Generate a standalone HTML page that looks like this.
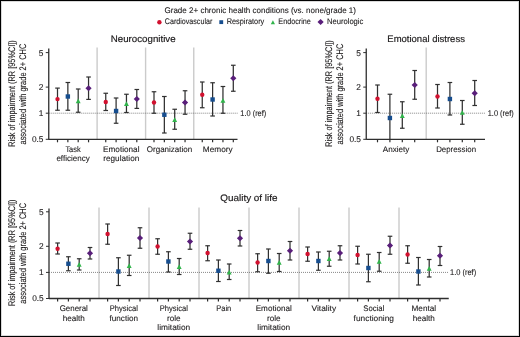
<!DOCTYPE html>
<html><head><meta charset="utf-8"><style>
html,body{margin:0;padding:0;background:#fff;}
body{width:520px;height:337px;overflow:hidden;}
svg{display:block;will-change:transform;}
text{font-family:"Liberation Sans", sans-serif;text-rendering:geometricPrecision;stroke:#1c1a1b;stroke-width:0.1px;}
</style></head><body>
<svg width="520" height="337" viewBox="0 0 520 337" font-family='"Liberation Sans", sans-serif' fill="#1c1a1b">
<rect x="0" y="0" width="520" height="337" fill="#fff"/>
<text x="164.5" y="12.95" font-size="8.1" text-anchor="start" textLength="191.5" lengthAdjust="spacingAndGlyphs">Grade 2+ chronic health conditions (vs. none/grade 1)</text>
<circle cx="159.4" cy="22.2" r="2.2" fill="#d2112f"/>
<text x="164.8" y="24.45" font-size="8.1" text-anchor="start" textLength="47.5" lengthAdjust="spacingAndGlyphs">Cardiovascular</text>
<rect x="219.336" y="20.235999999999997" width="3.8280000000000003" height="3.8280000000000003" fill="#164d8e"/>
<text x="226.7" y="24.45" font-size="8.1" text-anchor="start" textLength="37.6" lengthAdjust="spacingAndGlyphs">Respiratory</text>
<path d="M270.8175,24.205 L274.98249999999996,24.205 L272.9,20.295 Z" fill="#31b44b"/>
<text x="278.3" y="24.45" font-size="8.1" text-anchor="start" textLength="32.6" lengthAdjust="spacingAndGlyphs">Endocrine</text>
<path d="M320.6,19.05 L323.70000000000005,22.0 L320.6,24.95 L317.5,22.0 Z" fill="#591e7a"/>
<text x="326.9" y="24.45" font-size="8.1" text-anchor="start" textLength="36.5" lengthAdjust="spacingAndGlyphs">Neurologic</text>
<text x="110.8" y="41.9" font-size="9.4" text-anchor="start" textLength="64.8" lengthAdjust="spacingAndGlyphs" style="stroke-width:0.17px">Neurocognitive</text>
<text x="387.3" y="41.9" font-size="9.4" text-anchor="start" textLength="77.6" lengthAdjust="spacingAndGlyphs" style="stroke-width:0.17px">Emotional distress</text>
<text x="220.3" y="201.4" font-size="9.4" text-anchor="start" textLength="57.2" lengthAdjust="spacingAndGlyphs" style="stroke-width:0.17px">Quality of life</text>
<line x1="97.1" y1="47.5" x2="97.1" y2="139.3" stroke="#cbcbcb" stroke-width="1.4"/>
<line x1="145.6" y1="47.5" x2="145.6" y2="139.3" stroke="#cbcbcb" stroke-width="1.4"/>
<line x1="193.75" y1="47.5" x2="193.75" y2="139.3" stroke="#cbcbcb" stroke-width="1.4"/>
<line x1="48.75" y1="113.2" x2="237.5" y2="113.2" stroke="#555" stroke-width="0.8" stroke-dasharray="0.9 1.1"/>
<line x1="48.75" y1="48.5" x2="48.75" y2="139.8" stroke="#2e2e2e" stroke-width="1.3"/>
<line x1="48.75" y1="139.3" x2="237.5" y2="139.3" stroke="#2e2e2e" stroke-width="1.3"/>
<line x1="45.75" y1="52.60" x2="48.75" y2="52.60" stroke="#2e2e2e" stroke-width="1"/>
<text x="43.45" y="55.50" font-size="8.3" text-anchor="end">5</text>
<line x1="45.75" y1="87.10" x2="48.75" y2="87.10" stroke="#2e2e2e" stroke-width="1"/>
<text x="43.45" y="90.00" font-size="8.3" text-anchor="end">2</text>
<line x1="45.75" y1="113.20" x2="48.75" y2="113.20" stroke="#2e2e2e" stroke-width="1"/>
<text x="43.45" y="116.10" font-size="8.3" text-anchor="end">1</text>
<line x1="45.75" y1="139.30" x2="48.75" y2="139.30" stroke="#2e2e2e" stroke-width="1"/>
<text x="43.45" y="142.20" font-size="8.3" text-anchor="end">0.5</text>
<line x1="57.5" y1="139.3" x2="57.5" y2="142.3" stroke="#2e2e2e" stroke-width="1.2"/>
<line x1="67.85" y1="139.3" x2="67.85" y2="142.3" stroke="#2e2e2e" stroke-width="1.2"/>
<line x1="78.2" y1="139.3" x2="78.2" y2="142.3" stroke="#2e2e2e" stroke-width="1.2"/>
<line x1="88.55" y1="139.3" x2="88.55" y2="142.3" stroke="#2e2e2e" stroke-width="1.2"/>
<line x1="105.75" y1="139.3" x2="105.75" y2="142.3" stroke="#2e2e2e" stroke-width="1.2"/>
<line x1="116.1" y1="139.3" x2="116.1" y2="142.3" stroke="#2e2e2e" stroke-width="1.2"/>
<line x1="126.45" y1="139.3" x2="126.45" y2="142.3" stroke="#2e2e2e" stroke-width="1.2"/>
<line x1="136.8" y1="139.3" x2="136.8" y2="142.3" stroke="#2e2e2e" stroke-width="1.2"/>
<line x1="154.0" y1="139.3" x2="154.0" y2="142.3" stroke="#2e2e2e" stroke-width="1.2"/>
<line x1="164.35" y1="139.3" x2="164.35" y2="142.3" stroke="#2e2e2e" stroke-width="1.2"/>
<line x1="174.7" y1="139.3" x2="174.7" y2="142.3" stroke="#2e2e2e" stroke-width="1.2"/>
<line x1="185.05" y1="139.3" x2="185.05" y2="142.3" stroke="#2e2e2e" stroke-width="1.2"/>
<line x1="202.25" y1="139.3" x2="202.25" y2="142.3" stroke="#2e2e2e" stroke-width="1.2"/>
<line x1="212.6" y1="139.3" x2="212.6" y2="142.3" stroke="#2e2e2e" stroke-width="1.2"/>
<line x1="222.95" y1="139.3" x2="222.95" y2="142.3" stroke="#2e2e2e" stroke-width="1.2"/>
<line x1="233.3" y1="139.3" x2="233.3" y2="142.3" stroke="#2e2e2e" stroke-width="1.2"/>
<line x1="57.5" y1="88.1" x2="57.5" y2="110.25" stroke="#303030" stroke-width="1.25"/>
<line x1="55.2" y1="88.1" x2="59.8" y2="88.1" stroke="#303030" stroke-width="1.2"/>
<line x1="55.2" y1="110.25" x2="59.8" y2="110.25" stroke="#303030" stroke-width="1.2"/>
<circle cx="57.5" cy="99.1" r="2.2" fill="#d2112f"/>
<line x1="67.85" y1="82.5" x2="67.85" y2="110.25" stroke="#303030" stroke-width="1.25"/>
<line x1="65.55" y1="82.5" x2="70.14999999999999" y2="82.5" stroke="#303030" stroke-width="1.2"/>
<line x1="65.55" y1="110.25" x2="70.14999999999999" y2="110.25" stroke="#303030" stroke-width="1.2"/>
<rect x="65.64999999999999" y="94.3" width="4.4" height="4.4" fill="#164d8e"/>
<line x1="78.2" y1="89" x2="78.2" y2="112.25" stroke="#303030" stroke-width="1.25"/>
<line x1="75.9" y1="89" x2="80.5" y2="89" stroke="#303030" stroke-width="1.2"/>
<line x1="75.9" y1="112.25" x2="80.5" y2="112.25" stroke="#303030" stroke-width="1.2"/>
<path d="M75.75,103.2 L80.65,103.2 L78.2,98.60000000000001 Z" fill="#31b44b"/>
<line x1="88.55" y1="77" x2="88.55" y2="99.4" stroke="#303030" stroke-width="1.25"/>
<line x1="86.25" y1="77" x2="90.85" y2="77" stroke="#303030" stroke-width="1.2"/>
<line x1="86.25" y1="99.4" x2="90.85" y2="99.4" stroke="#303030" stroke-width="1.2"/>
<path d="M88.55,85.3 L91.64999999999999,88.25 L88.55,91.2 L85.45,88.25 Z" fill="#591e7a"/>
<line x1="105.75" y1="93.25" x2="105.75" y2="110.5" stroke="#303030" stroke-width="1.25"/>
<line x1="103.45" y1="93.25" x2="108.05" y2="93.25" stroke="#303030" stroke-width="1.2"/>
<line x1="103.45" y1="110.5" x2="108.05" y2="110.5" stroke="#303030" stroke-width="1.2"/>
<circle cx="105.75" cy="102" r="2.2" fill="#d2112f"/>
<line x1="116.1" y1="98" x2="116.1" y2="123.25" stroke="#303030" stroke-width="1.25"/>
<line x1="113.8" y1="98" x2="118.39999999999999" y2="98" stroke="#303030" stroke-width="1.2"/>
<line x1="113.8" y1="123.25" x2="118.39999999999999" y2="123.25" stroke="#303030" stroke-width="1.2"/>
<rect x="113.89999999999999" y="108.8" width="4.4" height="4.4" fill="#164d8e"/>
<line x1="126.45" y1="94.25" x2="126.45" y2="112.5" stroke="#303030" stroke-width="1.25"/>
<line x1="124.15" y1="94.25" x2="128.75" y2="94.25" stroke="#303030" stroke-width="1.2"/>
<line x1="124.15" y1="112.5" x2="128.75" y2="112.5" stroke="#303030" stroke-width="1.2"/>
<path d="M124.0,105.95 L128.9,105.95 L126.45,101.35000000000001 Z" fill="#31b44b"/>
<line x1="136.8" y1="89.5" x2="136.8" y2="108.4" stroke="#303030" stroke-width="1.25"/>
<line x1="134.5" y1="89.5" x2="139.10000000000002" y2="89.5" stroke="#303030" stroke-width="1.2"/>
<line x1="134.5" y1="108.4" x2="139.10000000000002" y2="108.4" stroke="#303030" stroke-width="1.2"/>
<path d="M136.8,96.05 L139.9,99 L136.8,101.95 L133.70000000000002,99 Z" fill="#591e7a"/>
<line x1="154.0" y1="91.75" x2="154.0" y2="113.25" stroke="#303030" stroke-width="1.25"/>
<line x1="151.7" y1="91.75" x2="156.3" y2="91.75" stroke="#303030" stroke-width="1.2"/>
<line x1="151.7" y1="113.25" x2="156.3" y2="113.25" stroke="#303030" stroke-width="1.2"/>
<circle cx="154.0" cy="102.5" r="2.2" fill="#d2112f"/>
<line x1="164.35" y1="96.5" x2="164.35" y2="133" stroke="#303030" stroke-width="1.25"/>
<line x1="162.04999999999998" y1="96.5" x2="166.65" y2="96.5" stroke="#303030" stroke-width="1.2"/>
<line x1="162.04999999999998" y1="133" x2="166.65" y2="133" stroke="#303030" stroke-width="1.2"/>
<rect x="162.15" y="112.55" width="4.4" height="4.4" fill="#164d8e"/>
<line x1="174.7" y1="109.25" x2="174.7" y2="129.25" stroke="#303030" stroke-width="1.25"/>
<line x1="172.39999999999998" y1="109.25" x2="177.0" y2="109.25" stroke="#303030" stroke-width="1.2"/>
<line x1="172.39999999999998" y1="129.25" x2="177.0" y2="129.25" stroke="#303030" stroke-width="1.2"/>
<path d="M172.25,121.95 L177.14999999999998,121.95 L174.7,117.35000000000001 Z" fill="#31b44b"/>
<line x1="185.05" y1="90.75" x2="185.05" y2="114.25" stroke="#303030" stroke-width="1.25"/>
<line x1="182.75" y1="90.75" x2="187.35000000000002" y2="90.75" stroke="#303030" stroke-width="1.2"/>
<line x1="182.75" y1="114.25" x2="187.35000000000002" y2="114.25" stroke="#303030" stroke-width="1.2"/>
<path d="M185.05,99.55 L188.15,102.5 L185.05,105.45 L181.95000000000002,102.5 Z" fill="#591e7a"/>
<line x1="202.25" y1="82" x2="202.25" y2="107.75" stroke="#303030" stroke-width="1.25"/>
<line x1="199.95" y1="82" x2="204.55" y2="82" stroke="#303030" stroke-width="1.2"/>
<line x1="199.95" y1="107.75" x2="204.55" y2="107.75" stroke="#303030" stroke-width="1.2"/>
<circle cx="202.25" cy="94.75" r="2.2" fill="#d2112f"/>
<line x1="212.6" y1="82.75" x2="212.6" y2="116" stroke="#303030" stroke-width="1.25"/>
<line x1="210.29999999999998" y1="82.75" x2="214.9" y2="82.75" stroke="#303030" stroke-width="1.2"/>
<line x1="210.29999999999998" y1="116" x2="214.9" y2="116" stroke="#303030" stroke-width="1.2"/>
<rect x="210.4" y="97.3" width="4.4" height="4.4" fill="#164d8e"/>
<line x1="222.95" y1="86.5" x2="222.95" y2="113.25" stroke="#303030" stroke-width="1.25"/>
<line x1="220.64999999999998" y1="86.5" x2="225.25" y2="86.5" stroke="#303030" stroke-width="1.2"/>
<line x1="220.64999999999998" y1="113.25" x2="225.25" y2="113.25" stroke="#303030" stroke-width="1.2"/>
<path d="M220.5,102.7 L225.39999999999998,102.7 L222.95,98.10000000000001 Z" fill="#31b44b"/>
<line x1="233.3" y1="65.25" x2="233.3" y2="91.25" stroke="#303030" stroke-width="1.25"/>
<line x1="231.0" y1="65.25" x2="235.60000000000002" y2="65.25" stroke="#303030" stroke-width="1.2"/>
<line x1="231.0" y1="91.25" x2="235.60000000000002" y2="91.25" stroke="#303030" stroke-width="1.2"/>
<path d="M233.3,75.3 L236.4,78.25 L233.3,81.2 L230.20000000000002,78.25 Z" fill="#591e7a"/>
<text x="73.03" y="152.10" font-size="8.1" text-anchor="middle" textLength="15.3" lengthAdjust="spacingAndGlyphs">Task</text>
<text x="73.03" y="161.15" font-size="8.1" text-anchor="middle" textLength="33.3" lengthAdjust="spacingAndGlyphs">efficiency</text>
<text x="121.28" y="152.10" font-size="8.1" text-anchor="middle" textLength="36.4" lengthAdjust="spacingAndGlyphs">Emotional</text>
<text x="121.28" y="161.15" font-size="8.1" text-anchor="middle" textLength="36" lengthAdjust="spacingAndGlyphs">regulation</text>
<text x="169.53" y="152.10" font-size="8.1" text-anchor="middle" textLength="45.4" lengthAdjust="spacingAndGlyphs">Organization</text>
<text x="217.78" y="152.10" font-size="8.1" text-anchor="middle" textLength="29.9" lengthAdjust="spacingAndGlyphs">Memory</text>
<text transform="translate(14.6,93.5) rotate(-90)" font-size="9.6" text-anchor="middle" textLength="106.5" lengthAdjust="spacingAndGlyphs">Risk of impairment (RR [95%CI])</text>
<text transform="translate(25.8,94.1) rotate(-90)" font-size="9.6" text-anchor="middle" textLength="100.8" lengthAdjust="spacingAndGlyphs">associated with grade 2+ CHC</text>
<text x="240.3" y="115.50" font-size="8.3" text-anchor="start" textLength="26" lengthAdjust="spacingAndGlyphs">1.0 (ref)</text>
<line x1="426.2" y1="47.5" x2="426.2" y2="139.3" stroke="#cbcbcb" stroke-width="1.4"/>
<line x1="366.25" y1="113.2" x2="485" y2="113.2" stroke="#555" stroke-width="0.8" stroke-dasharray="0.9 1.1"/>
<line x1="366.25" y1="48.5" x2="366.25" y2="139.8" stroke="#2e2e2e" stroke-width="1.3"/>
<line x1="366.25" y1="139.3" x2="485" y2="139.3" stroke="#2e2e2e" stroke-width="1.3"/>
<line x1="363.25" y1="52.60" x2="366.25" y2="52.60" stroke="#2e2e2e" stroke-width="1"/>
<text x="360.95" y="55.50" font-size="8.3" text-anchor="end">5</text>
<line x1="363.25" y1="87.10" x2="366.25" y2="87.10" stroke="#2e2e2e" stroke-width="1"/>
<text x="360.95" y="90.00" font-size="8.3" text-anchor="end">2</text>
<line x1="363.25" y1="113.20" x2="366.25" y2="113.20" stroke="#2e2e2e" stroke-width="1"/>
<text x="360.95" y="116.10" font-size="8.3" text-anchor="end">1</text>
<line x1="363.25" y1="139.30" x2="366.25" y2="139.30" stroke="#2e2e2e" stroke-width="1"/>
<text x="360.95" y="142.20" font-size="8.3" text-anchor="end">0.5</text>
<line x1="377.5" y1="139.3" x2="377.5" y2="142.3" stroke="#2e2e2e" stroke-width="1.2"/>
<line x1="389.9" y1="139.3" x2="389.9" y2="142.3" stroke="#2e2e2e" stroke-width="1.2"/>
<line x1="402.3" y1="139.3" x2="402.3" y2="142.3" stroke="#2e2e2e" stroke-width="1.2"/>
<line x1="414.7" y1="139.3" x2="414.7" y2="142.3" stroke="#2e2e2e" stroke-width="1.2"/>
<line x1="437.5" y1="139.3" x2="437.5" y2="142.3" stroke="#2e2e2e" stroke-width="1.2"/>
<line x1="449.9" y1="139.3" x2="449.9" y2="142.3" stroke="#2e2e2e" stroke-width="1.2"/>
<line x1="462.3" y1="139.3" x2="462.3" y2="142.3" stroke="#2e2e2e" stroke-width="1.2"/>
<line x1="474.7" y1="139.3" x2="474.7" y2="142.3" stroke="#2e2e2e" stroke-width="1.2"/>
<line x1="377.5" y1="85" x2="377.5" y2="112.5" stroke="#303030" stroke-width="1.25"/>
<line x1="375.2" y1="85" x2="379.8" y2="85" stroke="#303030" stroke-width="1.2"/>
<line x1="375.2" y1="112.5" x2="379.8" y2="112.5" stroke="#303030" stroke-width="1.2"/>
<circle cx="377.5" cy="98.75" r="2.2" fill="#d2112f"/>
<line x1="389.9" y1="94.25" x2="389.9" y2="139.25" stroke="#303030" stroke-width="1.25"/>
<line x1="387.59999999999997" y1="94.25" x2="392.2" y2="94.25" stroke="#303030" stroke-width="1.2"/>
<rect x="387.7" y="115.8" width="4.4" height="4.4" fill="#164d8e"/>
<line x1="402.3" y1="101.75" x2="402.3" y2="128.25" stroke="#303030" stroke-width="1.25"/>
<line x1="400.0" y1="101.75" x2="404.6" y2="101.75" stroke="#303030" stroke-width="1.2"/>
<line x1="400.0" y1="128.25" x2="404.6" y2="128.25" stroke="#303030" stroke-width="1.2"/>
<path d="M399.85,117.95 L404.75,117.95 L402.3,113.35000000000001 Z" fill="#31b44b"/>
<line x1="414.7" y1="70.5" x2="414.7" y2="99.25" stroke="#303030" stroke-width="1.25"/>
<line x1="412.4" y1="70.5" x2="417.0" y2="70.5" stroke="#303030" stroke-width="1.2"/>
<line x1="412.4" y1="99.25" x2="417.0" y2="99.25" stroke="#303030" stroke-width="1.2"/>
<path d="M414.7,82.05 L417.8,85 L414.7,87.95 L411.59999999999997,85 Z" fill="#591e7a"/>
<line x1="437.5" y1="84.5" x2="437.5" y2="108" stroke="#303030" stroke-width="1.25"/>
<line x1="435.2" y1="84.5" x2="439.8" y2="84.5" stroke="#303030" stroke-width="1.2"/>
<line x1="435.2" y1="108" x2="439.8" y2="108" stroke="#303030" stroke-width="1.2"/>
<circle cx="437.5" cy="96.5" r="2.2" fill="#d2112f"/>
<line x1="449.9" y1="82.5" x2="449.9" y2="115" stroke="#303030" stroke-width="1.25"/>
<line x1="447.59999999999997" y1="82.5" x2="452.2" y2="82.5" stroke="#303030" stroke-width="1.2"/>
<line x1="447.59999999999997" y1="115" x2="452.2" y2="115" stroke="#303030" stroke-width="1.2"/>
<rect x="447.7" y="96.8" width="4.4" height="4.4" fill="#164d8e"/>
<line x1="462.3" y1="100.5" x2="462.3" y2="124.25" stroke="#303030" stroke-width="1.25"/>
<line x1="460.0" y1="100.5" x2="464.6" y2="100.5" stroke="#303030" stroke-width="1.2"/>
<line x1="460.0" y1="124.25" x2="464.6" y2="124.25" stroke="#303030" stroke-width="1.2"/>
<path d="M459.85,114.8 L464.75,114.8 L462.3,110.2 Z" fill="#31b44b"/>
<line x1="474.7" y1="80.5" x2="474.7" y2="105.5" stroke="#303030" stroke-width="1.25"/>
<line x1="472.4" y1="80.5" x2="477.0" y2="80.5" stroke="#303030" stroke-width="1.2"/>
<line x1="472.4" y1="105.5" x2="477.0" y2="105.5" stroke="#303030" stroke-width="1.2"/>
<path d="M474.7,90.3 L477.8,93.25 L474.7,96.2 L471.59999999999997,93.25 Z" fill="#591e7a"/>
<text x="396.10" y="152.10" font-size="8.1" text-anchor="middle" textLength="26.6" lengthAdjust="spacingAndGlyphs">Anxiety</text>
<text x="456.10" y="152.10" font-size="8.1" text-anchor="middle" textLength="39.9" lengthAdjust="spacingAndGlyphs">Depression</text>
<text transform="translate(332.0,93.5) rotate(-90)" font-size="9.6" text-anchor="middle" textLength="106.5" lengthAdjust="spacingAndGlyphs">Risk of impairment (RR [95%CI])</text>
<text transform="translate(343.2,94.1) rotate(-90)" font-size="9.6" text-anchor="middle" textLength="100.8" lengthAdjust="spacingAndGlyphs">associated with grade 2+ CHC</text>
<text x="487.7" y="115.50" font-size="8.3" text-anchor="start" textLength="26" lengthAdjust="spacingAndGlyphs">1.0 (ref)</text>
<line x1="99.0" y1="207.5" x2="99.0" y2="298.5" stroke="#cbcbcb" stroke-width="1.4"/>
<line x1="149.0" y1="207.5" x2="149.0" y2="298.5" stroke="#cbcbcb" stroke-width="1.4"/>
<line x1="199.0" y1="207.5" x2="199.0" y2="298.5" stroke="#cbcbcb" stroke-width="1.4"/>
<line x1="249.0" y1="207.5" x2="249.0" y2="298.5" stroke="#cbcbcb" stroke-width="1.4"/>
<line x1="299.0" y1="207.5" x2="299.0" y2="298.5" stroke="#cbcbcb" stroke-width="1.4"/>
<line x1="349.0" y1="207.5" x2="349.0" y2="298.5" stroke="#cbcbcb" stroke-width="1.4"/>
<line x1="399.0" y1="207.5" x2="399.0" y2="298.5" stroke="#cbcbcb" stroke-width="1.4"/>
<line x1="49" y1="272.4" x2="448.75" y2="272.4" stroke="#555" stroke-width="0.8" stroke-dasharray="0.9 1.1"/>
<line x1="49" y1="208.5" x2="49" y2="299.0" stroke="#2e2e2e" stroke-width="1.3"/>
<line x1="49" y1="298.5" x2="448.75" y2="298.5" stroke="#2e2e2e" stroke-width="1.3"/>
<line x1="46" y1="211.80" x2="49" y2="211.80" stroke="#2e2e2e" stroke-width="1"/>
<text x="43.7" y="214.70" font-size="8.3" text-anchor="end">5</text>
<line x1="46" y1="246.30" x2="49" y2="246.30" stroke="#2e2e2e" stroke-width="1"/>
<text x="43.7" y="249.20" font-size="8.3" text-anchor="end">2</text>
<line x1="46" y1="272.40" x2="49" y2="272.40" stroke="#2e2e2e" stroke-width="1"/>
<text x="43.7" y="275.30" font-size="8.3" text-anchor="end">1</text>
<line x1="46" y1="298.50" x2="49" y2="298.50" stroke="#2e2e2e" stroke-width="1"/>
<text x="43.7" y="301.40" font-size="8.3" text-anchor="end">0.5</text>
<line x1="57.6" y1="298.5" x2="57.6" y2="301.5" stroke="#2e2e2e" stroke-width="1.2"/>
<line x1="68.4" y1="298.5" x2="68.4" y2="301.5" stroke="#2e2e2e" stroke-width="1.2"/>
<line x1="79.2" y1="298.5" x2="79.2" y2="301.5" stroke="#2e2e2e" stroke-width="1.2"/>
<line x1="90.0" y1="298.5" x2="90.0" y2="301.5" stroke="#2e2e2e" stroke-width="1.2"/>
<line x1="107.6" y1="298.5" x2="107.6" y2="301.5" stroke="#2e2e2e" stroke-width="1.2"/>
<line x1="118.39999999999999" y1="298.5" x2="118.39999999999999" y2="301.5" stroke="#2e2e2e" stroke-width="1.2"/>
<line x1="129.2" y1="298.5" x2="129.2" y2="301.5" stroke="#2e2e2e" stroke-width="1.2"/>
<line x1="140.0" y1="298.5" x2="140.0" y2="301.5" stroke="#2e2e2e" stroke-width="1.2"/>
<line x1="157.6" y1="298.5" x2="157.6" y2="301.5" stroke="#2e2e2e" stroke-width="1.2"/>
<line x1="168.4" y1="298.5" x2="168.4" y2="301.5" stroke="#2e2e2e" stroke-width="1.2"/>
<line x1="179.2" y1="298.5" x2="179.2" y2="301.5" stroke="#2e2e2e" stroke-width="1.2"/>
<line x1="190.0" y1="298.5" x2="190.0" y2="301.5" stroke="#2e2e2e" stroke-width="1.2"/>
<line x1="207.6" y1="298.5" x2="207.6" y2="301.5" stroke="#2e2e2e" stroke-width="1.2"/>
<line x1="218.4" y1="298.5" x2="218.4" y2="301.5" stroke="#2e2e2e" stroke-width="1.2"/>
<line x1="229.2" y1="298.5" x2="229.2" y2="301.5" stroke="#2e2e2e" stroke-width="1.2"/>
<line x1="240.0" y1="298.5" x2="240.0" y2="301.5" stroke="#2e2e2e" stroke-width="1.2"/>
<line x1="257.6" y1="298.5" x2="257.6" y2="301.5" stroke="#2e2e2e" stroke-width="1.2"/>
<line x1="268.40000000000003" y1="298.5" x2="268.40000000000003" y2="301.5" stroke="#2e2e2e" stroke-width="1.2"/>
<line x1="279.20000000000005" y1="298.5" x2="279.20000000000005" y2="301.5" stroke="#2e2e2e" stroke-width="1.2"/>
<line x1="290.0" y1="298.5" x2="290.0" y2="301.5" stroke="#2e2e2e" stroke-width="1.2"/>
<line x1="307.6" y1="298.5" x2="307.6" y2="301.5" stroke="#2e2e2e" stroke-width="1.2"/>
<line x1="318.40000000000003" y1="298.5" x2="318.40000000000003" y2="301.5" stroke="#2e2e2e" stroke-width="1.2"/>
<line x1="329.20000000000005" y1="298.5" x2="329.20000000000005" y2="301.5" stroke="#2e2e2e" stroke-width="1.2"/>
<line x1="340.0" y1="298.5" x2="340.0" y2="301.5" stroke="#2e2e2e" stroke-width="1.2"/>
<line x1="357.6" y1="298.5" x2="357.6" y2="301.5" stroke="#2e2e2e" stroke-width="1.2"/>
<line x1="368.40000000000003" y1="298.5" x2="368.40000000000003" y2="301.5" stroke="#2e2e2e" stroke-width="1.2"/>
<line x1="379.20000000000005" y1="298.5" x2="379.20000000000005" y2="301.5" stroke="#2e2e2e" stroke-width="1.2"/>
<line x1="390.0" y1="298.5" x2="390.0" y2="301.5" stroke="#2e2e2e" stroke-width="1.2"/>
<line x1="407.6" y1="298.5" x2="407.6" y2="301.5" stroke="#2e2e2e" stroke-width="1.2"/>
<line x1="418.40000000000003" y1="298.5" x2="418.40000000000003" y2="301.5" stroke="#2e2e2e" stroke-width="1.2"/>
<line x1="429.20000000000005" y1="298.5" x2="429.20000000000005" y2="301.5" stroke="#2e2e2e" stroke-width="1.2"/>
<line x1="440.0" y1="298.5" x2="440.0" y2="301.5" stroke="#2e2e2e" stroke-width="1.2"/>
<line x1="57.6" y1="243" x2="57.6" y2="254" stroke="#303030" stroke-width="1.25"/>
<line x1="55.300000000000004" y1="243" x2="59.9" y2="243" stroke="#303030" stroke-width="1.2"/>
<line x1="55.300000000000004" y1="254" x2="59.9" y2="254" stroke="#303030" stroke-width="1.2"/>
<circle cx="57.6" cy="248.75" r="2.2" fill="#d2112f"/>
<line x1="68.4" y1="256.75" x2="68.4" y2="270.75" stroke="#303030" stroke-width="1.25"/>
<line x1="66.10000000000001" y1="256.75" x2="70.7" y2="256.75" stroke="#303030" stroke-width="1.2"/>
<line x1="66.10000000000001" y1="270.75" x2="70.7" y2="270.75" stroke="#303030" stroke-width="1.2"/>
<rect x="66.2" y="261.55" width="4.4" height="4.4" fill="#164d8e"/>
<line x1="79.2" y1="258.75" x2="79.2" y2="270" stroke="#303030" stroke-width="1.25"/>
<line x1="76.9" y1="258.75" x2="81.5" y2="258.75" stroke="#303030" stroke-width="1.2"/>
<line x1="76.9" y1="270" x2="81.5" y2="270" stroke="#303030" stroke-width="1.2"/>
<path d="M76.75,266.7 L81.65,266.7 L79.2,262.09999999999997 Z" fill="#31b44b"/>
<line x1="90.0" y1="247.5" x2="90.0" y2="259" stroke="#303030" stroke-width="1.25"/>
<line x1="87.7" y1="247.5" x2="92.3" y2="247.5" stroke="#303030" stroke-width="1.2"/>
<line x1="87.7" y1="259" x2="92.3" y2="259" stroke="#303030" stroke-width="1.2"/>
<path d="M90.0,250.3 L93.1,253.25 L90.0,256.2 L86.9,253.25 Z" fill="#591e7a"/>
<line x1="107.6" y1="224" x2="107.6" y2="244.25" stroke="#303030" stroke-width="1.25"/>
<line x1="105.3" y1="224" x2="109.89999999999999" y2="224" stroke="#303030" stroke-width="1.2"/>
<line x1="105.3" y1="244.25" x2="109.89999999999999" y2="244.25" stroke="#303030" stroke-width="1.2"/>
<circle cx="107.6" cy="234" r="2.2" fill="#d2112f"/>
<line x1="118.39999999999999" y1="257.75" x2="118.39999999999999" y2="285.5" stroke="#303030" stroke-width="1.25"/>
<line x1="116.1" y1="257.75" x2="120.69999999999999" y2="257.75" stroke="#303030" stroke-width="1.2"/>
<line x1="116.1" y1="285.5" x2="120.69999999999999" y2="285.5" stroke="#303030" stroke-width="1.2"/>
<rect x="116.19999999999999" y="269.3" width="4.4" height="4.4" fill="#164d8e"/>
<line x1="129.2" y1="255.25" x2="129.2" y2="275.5" stroke="#303030" stroke-width="1.25"/>
<line x1="126.89999999999999" y1="255.25" x2="131.5" y2="255.25" stroke="#303030" stroke-width="1.2"/>
<line x1="126.89999999999999" y1="275.5" x2="131.5" y2="275.5" stroke="#303030" stroke-width="1.2"/>
<path d="M126.74999999999999,267.95 L131.64999999999998,267.95 L129.2,263.34999999999997 Z" fill="#31b44b"/>
<line x1="140.0" y1="227.75" x2="140.0" y2="248.25" stroke="#303030" stroke-width="1.25"/>
<line x1="137.7" y1="227.75" x2="142.3" y2="227.75" stroke="#303030" stroke-width="1.2"/>
<line x1="137.7" y1="248.25" x2="142.3" y2="248.25" stroke="#303030" stroke-width="1.2"/>
<path d="M140.0,235.05 L143.1,238 L140.0,240.95 L136.9,238 Z" fill="#591e7a"/>
<line x1="157.6" y1="238.75" x2="157.6" y2="254.25" stroke="#303030" stroke-width="1.25"/>
<line x1="155.29999999999998" y1="238.75" x2="159.9" y2="238.75" stroke="#303030" stroke-width="1.2"/>
<line x1="155.29999999999998" y1="254.25" x2="159.9" y2="254.25" stroke="#303030" stroke-width="1.2"/>
<circle cx="157.6" cy="246.5" r="2.2" fill="#d2112f"/>
<line x1="168.4" y1="251.75" x2="168.4" y2="272" stroke="#303030" stroke-width="1.25"/>
<line x1="166.1" y1="251.75" x2="170.70000000000002" y2="251.75" stroke="#303030" stroke-width="1.2"/>
<line x1="166.1" y1="272" x2="170.70000000000002" y2="272" stroke="#303030" stroke-width="1.2"/>
<rect x="166.20000000000002" y="259.3" width="4.4" height="4.4" fill="#164d8e"/>
<line x1="179.2" y1="258.5" x2="179.2" y2="274.5" stroke="#303030" stroke-width="1.25"/>
<line x1="176.89999999999998" y1="258.5" x2="181.5" y2="258.5" stroke="#303030" stroke-width="1.2"/>
<line x1="176.89999999999998" y1="274.5" x2="181.5" y2="274.5" stroke="#303030" stroke-width="1.2"/>
<path d="M176.75,268.95 L181.64999999999998,268.95 L179.2,264.34999999999997 Z" fill="#31b44b"/>
<line x1="190.0" y1="233.25" x2="190.0" y2="249.25" stroke="#303030" stroke-width="1.25"/>
<line x1="187.7" y1="233.25" x2="192.3" y2="233.25" stroke="#303030" stroke-width="1.2"/>
<line x1="187.7" y1="249.25" x2="192.3" y2="249.25" stroke="#303030" stroke-width="1.2"/>
<path d="M190.0,238.55 L193.1,241.5 L190.0,244.45 L186.9,241.5 Z" fill="#591e7a"/>
<line x1="207.6" y1="245.75" x2="207.6" y2="260.75" stroke="#303030" stroke-width="1.25"/>
<line x1="205.29999999999998" y1="245.75" x2="209.9" y2="245.75" stroke="#303030" stroke-width="1.2"/>
<line x1="205.29999999999998" y1="260.75" x2="209.9" y2="260.75" stroke="#303030" stroke-width="1.2"/>
<circle cx="207.6" cy="253" r="2.2" fill="#d2112f"/>
<line x1="218.4" y1="260" x2="218.4" y2="281.5" stroke="#303030" stroke-width="1.25"/>
<line x1="216.1" y1="260" x2="220.70000000000002" y2="260" stroke="#303030" stroke-width="1.2"/>
<line x1="216.1" y1="281.5" x2="220.70000000000002" y2="281.5" stroke="#303030" stroke-width="1.2"/>
<rect x="216.20000000000002" y="268.55" width="4.4" height="4.4" fill="#164d8e"/>
<line x1="229.2" y1="264" x2="229.2" y2="279.5" stroke="#303030" stroke-width="1.25"/>
<line x1="226.89999999999998" y1="264" x2="231.5" y2="264" stroke="#303030" stroke-width="1.2"/>
<line x1="226.89999999999998" y1="279.5" x2="231.5" y2="279.5" stroke="#303030" stroke-width="1.2"/>
<path d="M226.75,274.45 L231.64999999999998,274.45 L229.2,269.84999999999997 Z" fill="#31b44b"/>
<line x1="240.0" y1="230.5" x2="240.0" y2="246" stroke="#303030" stroke-width="1.25"/>
<line x1="237.7" y1="230.5" x2="242.3" y2="230.5" stroke="#303030" stroke-width="1.2"/>
<line x1="237.7" y1="246" x2="242.3" y2="246" stroke="#303030" stroke-width="1.2"/>
<path d="M240.0,235.3 L243.1,238.25 L240.0,241.2 L236.9,238.25 Z" fill="#591e7a"/>
<line x1="257.6" y1="253.75" x2="257.6" y2="271.75" stroke="#303030" stroke-width="1.25"/>
<line x1="255.3" y1="253.75" x2="259.90000000000003" y2="253.75" stroke="#303030" stroke-width="1.2"/>
<line x1="255.3" y1="271.75" x2="259.90000000000003" y2="271.75" stroke="#303030" stroke-width="1.2"/>
<circle cx="257.6" cy="262.5" r="2.2" fill="#d2112f"/>
<line x1="268.40000000000003" y1="249" x2="268.40000000000003" y2="273.25" stroke="#303030" stroke-width="1.25"/>
<line x1="266.1" y1="249" x2="270.70000000000005" y2="249" stroke="#303030" stroke-width="1.2"/>
<line x1="266.1" y1="273.25" x2="270.70000000000005" y2="273.25" stroke="#303030" stroke-width="1.2"/>
<rect x="266.20000000000005" y="258.8" width="4.4" height="4.4" fill="#164d8e"/>
<line x1="279.20000000000005" y1="253.5" x2="279.20000000000005" y2="271.5" stroke="#303030" stroke-width="1.25"/>
<line x1="276.90000000000003" y1="253.5" x2="281.50000000000006" y2="253.5" stroke="#303030" stroke-width="1.2"/>
<line x1="276.90000000000003" y1="271.5" x2="281.50000000000006" y2="271.5" stroke="#303030" stroke-width="1.2"/>
<path d="M276.75000000000006,264.7 L281.65000000000003,264.7 L279.20000000000005,260.09999999999997 Z" fill="#31b44b"/>
<line x1="290.0" y1="241.5" x2="290.0" y2="260" stroke="#303030" stroke-width="1.25"/>
<line x1="287.7" y1="241.5" x2="292.3" y2="241.5" stroke="#303030" stroke-width="1.2"/>
<line x1="287.7" y1="260" x2="292.3" y2="260" stroke="#303030" stroke-width="1.2"/>
<path d="M290.0,247.8 L293.1,250.75 L290.0,253.7 L286.9,250.75 Z" fill="#591e7a"/>
<line x1="307.6" y1="247" x2="307.6" y2="261.25" stroke="#303030" stroke-width="1.25"/>
<line x1="305.3" y1="247" x2="309.90000000000003" y2="247" stroke="#303030" stroke-width="1.2"/>
<line x1="305.3" y1="261.25" x2="309.90000000000003" y2="261.25" stroke="#303030" stroke-width="1.2"/>
<circle cx="307.6" cy="254" r="2.2" fill="#d2112f"/>
<line x1="318.40000000000003" y1="252" x2="318.40000000000003" y2="270.25" stroke="#303030" stroke-width="1.25"/>
<line x1="316.1" y1="252" x2="320.70000000000005" y2="252" stroke="#303030" stroke-width="1.2"/>
<line x1="316.1" y1="270.25" x2="320.70000000000005" y2="270.25" stroke="#303030" stroke-width="1.2"/>
<rect x="316.20000000000005" y="258.8" width="4.4" height="4.4" fill="#164d8e"/>
<line x1="329.20000000000005" y1="251.25" x2="329.20000000000005" y2="266.25" stroke="#303030" stroke-width="1.25"/>
<line x1="326.90000000000003" y1="251.25" x2="331.50000000000006" y2="251.25" stroke="#303030" stroke-width="1.2"/>
<line x1="326.90000000000003" y1="266.25" x2="331.50000000000006" y2="266.25" stroke="#303030" stroke-width="1.2"/>
<path d="M326.75000000000006,260.95 L331.65000000000003,260.95 L329.20000000000005,256.34999999999997 Z" fill="#31b44b"/>
<line x1="340.0" y1="245.75" x2="340.0" y2="260" stroke="#303030" stroke-width="1.25"/>
<line x1="337.7" y1="245.75" x2="342.3" y2="245.75" stroke="#303030" stroke-width="1.2"/>
<line x1="337.7" y1="260" x2="342.3" y2="260" stroke="#303030" stroke-width="1.2"/>
<path d="M340.0,250.05 L343.1,253 L340.0,255.95 L336.9,253 Z" fill="#591e7a"/>
<line x1="357.6" y1="246.25" x2="357.6" y2="264" stroke="#303030" stroke-width="1.25"/>
<line x1="355.3" y1="246.25" x2="359.90000000000003" y2="246.25" stroke="#303030" stroke-width="1.2"/>
<line x1="355.3" y1="264" x2="359.90000000000003" y2="264" stroke="#303030" stroke-width="1.2"/>
<circle cx="357.6" cy="255" r="2.2" fill="#d2112f"/>
<line x1="368.40000000000003" y1="254.25" x2="368.40000000000003" y2="281.75" stroke="#303030" stroke-width="1.25"/>
<line x1="366.1" y1="254.25" x2="370.70000000000005" y2="254.25" stroke="#303030" stroke-width="1.2"/>
<line x1="366.1" y1="281.75" x2="370.70000000000005" y2="281.75" stroke="#303030" stroke-width="1.2"/>
<rect x="366.20000000000005" y="265.8" width="4.4" height="4.4" fill="#164d8e"/>
<line x1="379.20000000000005" y1="252.5" x2="379.20000000000005" y2="271.25" stroke="#303030" stroke-width="1.25"/>
<line x1="376.90000000000003" y1="252.5" x2="381.50000000000006" y2="252.5" stroke="#303030" stroke-width="1.2"/>
<line x1="376.90000000000003" y1="271.25" x2="381.50000000000006" y2="271.25" stroke="#303030" stroke-width="1.2"/>
<path d="M376.75000000000006,263.7 L381.65000000000003,263.7 L379.20000000000005,259.09999999999997 Z" fill="#31b44b"/>
<line x1="390.0" y1="236.25" x2="390.0" y2="254.25" stroke="#303030" stroke-width="1.25"/>
<line x1="387.7" y1="236.25" x2="392.3" y2="236.25" stroke="#303030" stroke-width="1.2"/>
<line x1="387.7" y1="254.25" x2="392.3" y2="254.25" stroke="#303030" stroke-width="1.2"/>
<path d="M390.0,242.55 L393.1,245.5 L390.0,248.45 L386.9,245.5 Z" fill="#591e7a"/>
<line x1="407.6" y1="245.75" x2="407.6" y2="263.25" stroke="#303030" stroke-width="1.25"/>
<line x1="405.3" y1="245.75" x2="409.90000000000003" y2="245.75" stroke="#303030" stroke-width="1.2"/>
<line x1="405.3" y1="263.25" x2="409.90000000000003" y2="263.25" stroke="#303030" stroke-width="1.2"/>
<circle cx="407.6" cy="254.5" r="2.2" fill="#d2112f"/>
<line x1="418.40000000000003" y1="257.5" x2="418.40000000000003" y2="285" stroke="#303030" stroke-width="1.25"/>
<line x1="416.1" y1="257.5" x2="420.70000000000005" y2="257.5" stroke="#303030" stroke-width="1.2"/>
<line x1="416.1" y1="285" x2="420.70000000000005" y2="285" stroke="#303030" stroke-width="1.2"/>
<rect x="416.20000000000005" y="269.3" width="4.4" height="4.4" fill="#164d8e"/>
<line x1="429.20000000000005" y1="259.5" x2="429.20000000000005" y2="277" stroke="#303030" stroke-width="1.25"/>
<line x1="426.90000000000003" y1="259.5" x2="431.50000000000006" y2="259.5" stroke="#303030" stroke-width="1.2"/>
<line x1="426.90000000000003" y1="277" x2="431.50000000000006" y2="277" stroke="#303030" stroke-width="1.2"/>
<path d="M426.75000000000006,270.7 L431.65000000000003,270.7 L429.20000000000005,266.09999999999997 Z" fill="#31b44b"/>
<line x1="440.0" y1="246.5" x2="440.0" y2="265.5" stroke="#303030" stroke-width="1.25"/>
<line x1="437.7" y1="246.5" x2="442.3" y2="246.5" stroke="#303030" stroke-width="1.2"/>
<line x1="437.7" y1="265.5" x2="442.3" y2="265.5" stroke="#303030" stroke-width="1.2"/>
<path d="M440.0,252.8 L443.1,255.75 L440.0,258.7 L436.9,255.75 Z" fill="#591e7a"/>
<text x="73.80" y="311.30" font-size="8.1" text-anchor="middle" textLength="28.2" lengthAdjust="spacingAndGlyphs">General</text>
<text x="73.80" y="320.65" font-size="8.1" text-anchor="middle" textLength="22.2" lengthAdjust="spacingAndGlyphs">health</text>
<text x="123.80" y="311.30" font-size="8.1" text-anchor="middle" textLength="28.2" lengthAdjust="spacingAndGlyphs">Physical</text>
<text x="123.80" y="320.65" font-size="8.1" text-anchor="middle" textLength="28.6" lengthAdjust="spacingAndGlyphs">function</text>
<text x="173.80" y="311.30" font-size="8.1" text-anchor="middle" textLength="28.2" lengthAdjust="spacingAndGlyphs">Physical</text>
<text x="173.80" y="320.65" font-size="8.1" text-anchor="middle" textLength="13.7" lengthAdjust="spacingAndGlyphs">role</text>
<text x="173.80" y="330.00" font-size="8.1" text-anchor="middle" textLength="32.9" lengthAdjust="spacingAndGlyphs">limitation</text>
<text x="223.80" y="311.30" font-size="8.1" text-anchor="middle" textLength="14.9" lengthAdjust="spacingAndGlyphs">Pain</text>
<text x="273.80" y="311.30" font-size="8.1" text-anchor="middle" textLength="36.2" lengthAdjust="spacingAndGlyphs">Emotional</text>
<text x="273.80" y="320.65" font-size="8.1" text-anchor="middle" textLength="13.7" lengthAdjust="spacingAndGlyphs">role</text>
<text x="273.80" y="330.00" font-size="8.1" text-anchor="middle" textLength="32.9" lengthAdjust="spacingAndGlyphs">limitation</text>
<text x="323.80" y="311.30" font-size="8.1" text-anchor="middle" textLength="24.6" lengthAdjust="spacingAndGlyphs">Vitality</text>
<text x="373.80" y="311.30" font-size="8.1" text-anchor="middle" textLength="21.1" lengthAdjust="spacingAndGlyphs">Social</text>
<text x="373.80" y="320.65" font-size="8.1" text-anchor="middle" textLength="40.4" lengthAdjust="spacingAndGlyphs">functioning</text>
<text x="423.80" y="311.30" font-size="8.1" text-anchor="middle" textLength="24.6" lengthAdjust="spacingAndGlyphs">Mental</text>
<text x="423.80" y="320.65" font-size="8.1" text-anchor="middle" textLength="22.2" lengthAdjust="spacingAndGlyphs">health</text>
<text transform="translate(14.6,252.7) rotate(-90)" font-size="9.6" text-anchor="middle" textLength="106.5" lengthAdjust="spacingAndGlyphs">Risk of impairment (RR [95%CI])</text>
<text transform="translate(25.8,253.29999999999998) rotate(-90)" font-size="9.6" text-anchor="middle" textLength="100.8" lengthAdjust="spacingAndGlyphs">associated with grade 2+ CHC</text>
<text x="450" y="274.70" font-size="8.3" text-anchor="start" textLength="26.2" lengthAdjust="spacingAndGlyphs">1.0 (ref)</text>
<rect x="0.5" y="0.5" width="519" height="336" fill="none" stroke="#000" stroke-width="1"/>
<rect x="1.5" y="1.5" width="517" height="334" fill="none" stroke="#000" stroke-opacity="0.15" stroke-width="1"/>
</svg>
</body></html>
